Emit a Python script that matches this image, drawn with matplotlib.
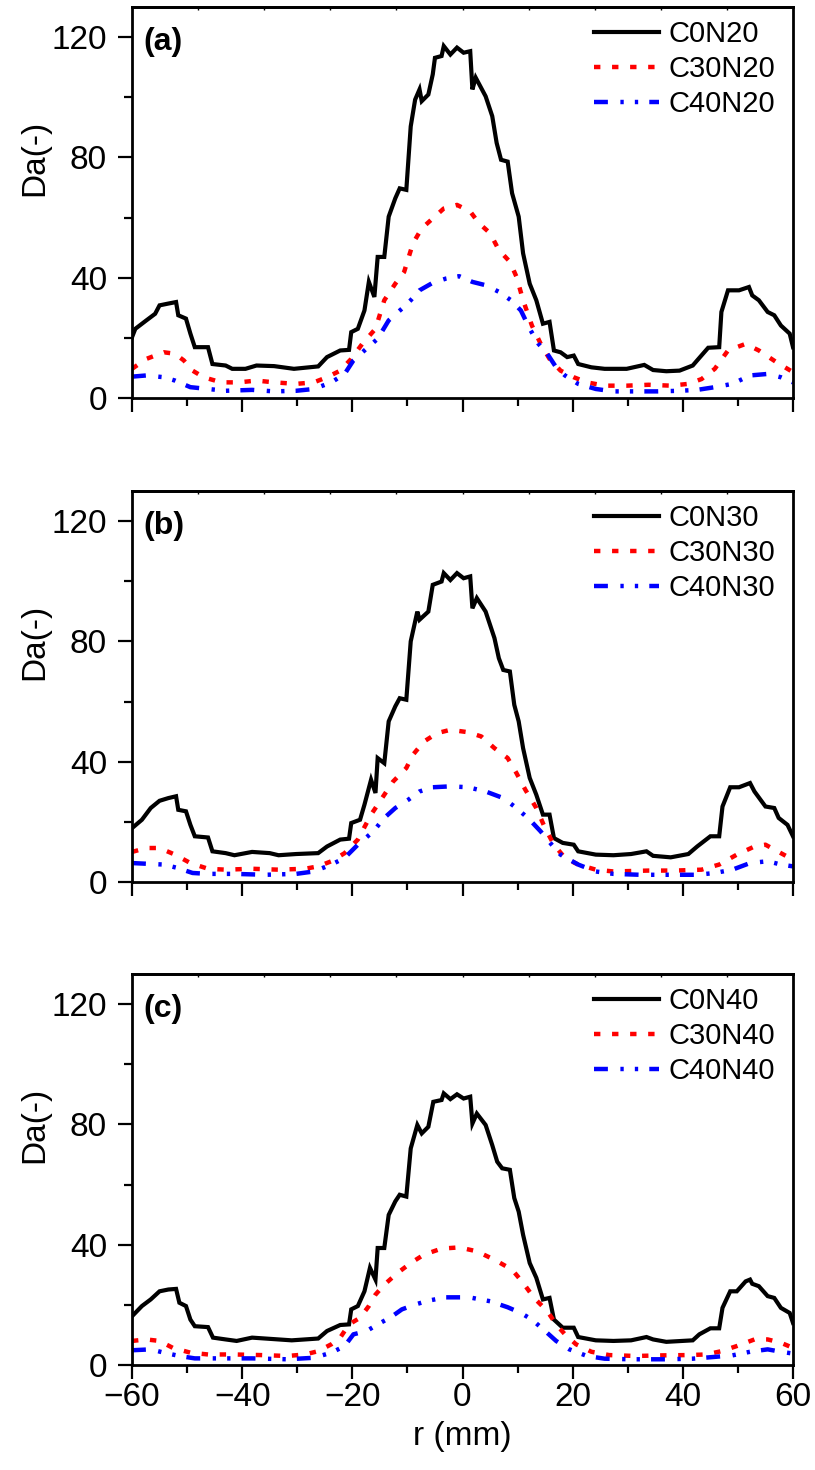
import matplotlib
matplotlib.use("Agg")
import matplotlib.pyplot as plt
from matplotlib.ticker import MultipleLocator, FixedLocator

plt.rcParams['font.family'] = ['Liberation Sans', 'DejaVu Sans']
plt.rcParams['lines.scale_dashes'] = False

# ---------------- data: panel (a) ----------------
r_a_c0 = [-60, -59.4, -57.4, -55.8, -55, -53.4, -52, -51.6, -50.2, -49.4, -48.6, -46.2, -45.4, -43, -41.8, -39.4,
          -37.4, -34.2, -30.6, -26.2, -24.6, -22.2, -20.6, -20.2, -19, -17.8, -17, -16, -15.4, -14.2, -13.4, -12.2,
          -11.4, -10.2, -9.4, -8.6, -7.8, -7.4, -6.2, -5.4, -5, -3.8, -3.4, -2.2, -1, 0.2, 1.4, 1.8, 2.4, 4.2, 5.4,
          6.2, 7, 8.2, 9, 10.2, 11, 12.2, 13.4, 14.6, 15.8, 16.6, 17.8, 19, 20.2, 21, 23.4, 25.8, 29.8, 33, 34.6, 37,
          39.4, 41.8, 42.6, 44.6, 46.6, 47, 48.2, 50.2, 52, 52.6, 53.8, 55.4, 56.6, 57.8, 59.4, 60]
da_a_c0 = [20.2, 23, 25.8, 28, 30.8, 31.4, 31.9, 27.5, 26.4, 21.4, 16.9, 16.9, 11.3, 10.8, 9.7, 9.7,
           10.8, 10.6, 9.7, 10.5, 13.6, 15.8, 16, 21.9, 23, 29.1, 38.6, 33.6, 46.9, 46.9, 60.3, 66.4,
           69.7, 69.2, 90.3, 99.2, 102.6, 98.7, 100.9, 107.6, 113.1, 113.7, 117, 114.2, 116.5, 114.8, 115.3, 102.6, 106.5, 100.3, 93.7,
           84.8, 79.2, 78.6, 68.1, 60.3, 48.1, 38, 32.5, 24.7, 25.3, 15.8, 15.2, 13.6, 14.1, 11.3, 10.2, 9.7, 9.7, 11, 9.3, 8.9,
           9.1, 10.8, 12.5, 16.7, 16.9, 28.6, 35.8, 35.8, 36.9, 34.1, 32.5, 28.6, 27.5, 24.1, 21.4, 16.9]

r_a_c30 = [-60, -57.4, -54.2, -52.2, -50.6, -49, -47, -43.8, -40.6, -37.4, -34.2, -30.2, -27, -24.6, -22.2, -20.2,
           -18.2, -15.8, -14.2, -12.2, -10.6, -9, -7.4, -5.4, -3.4, -1, 1.4, 3, 5, 6.6, 8.6, 9.8, 11, 12.6, 14.2,
           15.8, 17.8, 20.2, 22.6, 25.8, 29.8, 33.8, 37.8, 41, 43.4, 45.8, 48.2, 51.4, 53.8, 57, 60]
da_a_c30 = [9.7, 13, 15.2, 14.7, 12.5, 9.1, 6.9, 5.2, 5.2, 5.8, 5.2, 4.7, 5.2, 6.9, 9.1, 13,
            18, 23, 32.5, 38, 41.9, 51.4, 56.4, 59.7, 63, 64.2, 62, 58.1, 54.8, 49.2, 45.3, 40.3, 32.5, 24.1, 18,
            13, 9.1, 6.9, 5.2, 4.1, 4.1, 4.4, 4.1, 4.7, 6.3, 9.7, 15.8, 18, 15.8, 11.9, 8.6]

r_a_c40 = [-60, -57.4, -54.2, -52.2, -49.4, -46.2, -43, -38.2, -34.2, -30.2, -27, -23.8, -21.4, -19.8, -17.8,
           -15.4, -13.4, -11, -9.4, -7.8, -5.4, -3, -0.6, 1.8, 4.2, 6.6, 8.8, 10.6, 12.2, 13.8, 15.4, 17, 18.6,
           21, 24.2, 27.4, 31.4, 35.4, 39.4, 42.6, 45.8, 49, 52.2, 55.4, 57.8, 60]
da_a_c40 = [7.1, 7.5, 6.9, 5.8, 3.6, 3, 2.4, 2.7, 2.2, 2.4, 3, 5.2, 8, 12.5, 15.8,
            19.7, 25.8, 29.7, 32.5, 35.8, 38.3, 39.7, 40.5, 38.6, 37.5, 35.3, 32.5, 29.1, 23, 18, 14.7, 10.2, 7.5,
            4.7, 3, 2.2, 2.2, 2.2, 2.4, 2.7, 3.6, 4.7, 7.5, 8, 6.9, 5.2]

# ---------------- data: panel (b) ----------------
r_b_c0 = [-60, -58.2, -56.6, -55, -53.4, -52, -51.6, -50.2, -49.4, -48.6, -46.2, -45.4, -43, -41.4, -38.2, -35,
          -33.4, -30.2, -26.2, -24.6, -22.2, -20.6, -20.2, -18.6, -17.8, -16.6, -15.8, -15.4, -14.2, -13.4, -12.2,
          -11.4, -10.2, -9.4, -8.2, -7.8, -6.2, -5.4, -3.8, -3.4, -2.2, -1, 0.2, 1.4, 1.8, 2.6, 4.2, 5.8, 6.6, 7.4,
          8.6, 9.4, 10.2, 11, 12.2, 13.4, 14.6, 15.8, 16.6, 18.2, 20.2, 21, 24.2, 27.4, 30.6, 33.4, 34.6, 37.8, 41,
          42.6, 45, 46.6, 47.2, 48.6, 50.2, 52.2, 53, 55, 56.6, 57.4, 59, 60]
da_b_c0 = [17.9, 20.7, 24.6, 27, 27.9, 28.5, 24, 23.5, 19, 15.2, 14.8, 10.2, 9.6, 8.9, 10, 9.6,
           8.9, 9.3, 9.6, 11.8, 14.1, 14.4, 19.6, 20.7, 25.7, 34, 29.6, 41.2, 39.5, 53.4, 58.4,
           61.1, 60.6, 80, 89.9, 87.2, 89.9, 98.8, 99.9, 102.7, 100.4, 102.7, 101, 101.6, 91, 94.4, 89.9, 81.1, 74.4, 70.5,
           70, 58.9, 53.4, 44.5, 34.6, 29, 22.4, 22.4, 14.6, 13, 12.4, 10.2, 9.1, 8.9, 9.3, 10.2, 8.7, 8.2, 9.3,
           11.8, 15.2, 15.2, 25.1, 31.5, 31.5, 32.9, 30.1, 25.1, 24.6, 21.3, 19, 15.2]

r_b_c30 = [-60, -57.4, -55, -52.2, -49.4, -46.2, -43, -38.2, -33.4, -28.6, -26.2, -23.8, -21.4, -19, -16.6, -14.2,
           -12.6, -10.2, -9, -7, -4.6, -2.2, 1, 3.4, 5.8, 8.2, 9.8, 11.4, 13.4, 15, 16.6, 18.6, 21, 24.2, 27.4,
           33.8, 38.6, 43.4, 46.6, 49.8, 53, 55, 57.8, 60]
da_b_c30 = [10, 11.3, 11.3, 9.1, 6.3, 4.4, 4.1, 4.4, 4.1, 4.4, 5.2, 6.9, 9.6, 14.1, 22.4, 29,
            33.4, 37.9, 42.3, 46.7, 49.5, 50.6, 49.8, 48.4, 44.5, 41.2, 36.2, 30.7, 24.6, 17.9, 12.4, 8, 5.8, 4.1, 3.5,
            3.8, 3.8, 4.1, 5.8, 9.1, 11.8, 12.4, 9.6, 7.4]

r_b_c40 = [-60, -56.6, -54.2, -51.8, -49, -46.2, -41.4, -35.8, -30.2, -27, -23.8, -21.4, -19, -16.2, -14.2, -12.2,
           -9.8, -7.8, -5.4, -2.2, 1, 4.2, 7.4, 9.8, 12.2, 14.2, 16.2, 17.8, 21, 24.2, 27.4, 32.2, 37.8, 42.6, 45.8,
           49, 52.2, 55.4, 57.8, 60]
da_b_c40 = [6.3, 6, 5.8, 4.7, 3, 2.7, 2.7, 2.4, 2.7, 3.5, 5.8, 8, 12.4, 16.8, 21.3, 24.6,
            27.4, 30.1, 31.5, 31.8, 31.5, 30.1, 27.9, 24.6, 20.7, 16.8, 12.4, 9.1, 5.8, 3.5, 2.7, 2.4, 2.4, 2.4, 3,
            4.1, 6.3, 6.9, 5.8, 5.2]

# ---------------- data: panel (c) ----------------
r_c_c0 = [-60, -58.2, -56.6, -55, -53.4, -52, -51.4, -50.2, -49.4, -48.6, -46.2, -45.3, -43, -41, -38.2, -35,
          -31, -26.2, -24.6, -22.2, -20.6, -20.2, -19, -17.8, -16.8, -15.8, -15.4, -14.2, -13.4, -12.2, -11.4,
          -10.2, -9.4, -8.2, -7.4, -6.2, -5.3, -3.8, -3.4, -2.2, -1, 0.2, 1.4, 1.8, 2.6, 4.2, 5.4, 6.3, 7.2, 8.6,
          9.4, 10.2, 11, 12.2, 13.4, 14.6, 15.8, 16.6, 18.2, 20.2, 21, 24.2, 27.4, 30.6, 33.4, 34.6, 37, 41.8, 43,
          45, 46.6, 47.2, 48.6, 49.8, 51.4, 52.2, 52.6, 53.8, 55.4, 56.6, 57.8, 59.4, 60]
da_c_c0 = [16.2, 19.6, 21.8, 24.5, 25.1, 25.3, 20.7, 19.6, 15.1, 12.9, 12.6, 9.1, 8.5, 8, 9.1, 8.7,
           8.2, 8.8, 11.3, 13.3, 13.5, 18.5, 19.6, 24.5, 32.3, 28.4, 38.9, 38.9, 49.9, 54.4, 56.6,
           56, 72, 79.8, 77, 79.2, 87.5, 88.1, 90.3, 88.4, 90, 88.6, 89.2, 80.3, 83.6, 79.8, 73.1, 67.6, 65.4, 64.9,
           55.5, 51, 43.3, 33.9, 29, 21.8, 22.3, 15.1, 12.4, 12.4, 9.3, 8.2, 8, 8.2, 9.3, 8.5, 7.7, 8.2, 10.2,
           12.2, 12.2, 19, 24.5, 24.5, 27.8, 28.4, 27, 26.2, 22.9, 22.3, 19, 17.3, 14]

r_c_c30 = [-60, -57.4, -55, -52.6, -49.4, -46.2, -41.4, -36.6, -31.8, -28.6, -26.2, -23.8, -22.2, -20.6, -18.6,
           -17, -15.8, -14.2, -11.8, -9.4, -7, -3.8, -0.6, 2.6, 5.8, 9, 11, 13, 15.4, 17, 18.6, 20.6, 23.4, 26.6,
           31.4, 36.2, 41, 44.2, 47, 49.8, 53, 55.4, 57.8, 60]
da_c_c30 = [8, 8.5, 8, 5.7, 4.1, 3.5, 3.5, 3.3, 3, 3.5, 4.6, 6.9, 9.1, 13.5, 15.7,
            19.6, 23.4, 26.7, 30.6, 33.9, 36.7, 38.7, 39.1, 37.8, 35, 31.7, 27.3, 22.3, 17.9, 13.5, 10.2, 6.9, 4.4, 3.3,
            3, 3.2, 3.3, 3.5, 4.6, 6.3, 8.5, 8.5, 7.4, 5.7]

r_c_c40 = [-60, -56.6, -54.2, -51.4, -48.6, -43.8, -38.2, -31.8, -27, -23.8, -21.4, -19.8, -17.4, -15.4, -13,
           -11, -8.6, -6.2, -3, -0.2, 1.8, 5, 8.2, 10.6, 12.6, 15, 17, 19.4, 22.6, 25.8, 30.6, 37, 41.8, 45.8, 49,
           52.2, 55.4, 57.8, 60]
da_c_c40 = [4.9, 5.2, 4.1, 3, 2.2, 2.2, 2.2, 1.9, 2.4, 4.1, 6.3, 10.2, 11.3, 13.5, 15.9,
            18.5, 20.1, 21.4, 22.5, 22.5, 22.3, 21.2, 19.2, 17.3, 15.1, 11.3, 8, 5.2, 3, 2.1, 1.9, 1.9, 2.1, 2.7, 3.2,
            4.4, 5.2, 4.4, 3.8]

panel_tags = ['(a)', '(b)', '(c)']
labels_a = ['C0N20', 'C30N20', 'C40N20']
labels_b = ['C0N30', 'C30N30', 'C40N30']
labels_c = ['C0N40', 'C30N40', 'C40N40']

panels = [
    ((r_a_c0, da_a_c0), (r_a_c30, da_a_c30), (r_a_c40, da_a_c40), labels_a),
    ((r_b_c0, da_b_c0), (r_b_c30, da_b_c30), (r_b_c40, da_b_c40), labels_b),
    ((r_c_c0, da_c_c0), (r_c_c30, da_c_c30), (r_c_c40, da_c_c40), labels_c),
]

fig = plt.figure(figsize=(8.15, 14.7), dpi=100)
L, W = 132 / 815, 661 / 815
bottoms = [(1470 - 398) / 1470, (1470 - 882) / 1470, (1470 - 1365) / 1470]
H = 391 / 1470

red_ls = (0, (4.6, 8.4))
blue_ls = (0, (10, 9, 2.4, 8, 2.4, 8))

for i, (s0, s30, s40, labs) in enumerate(panels):
    ax = fig.add_axes([L, bottoms[i], W, H])
    ax.plot(s0[0], s0[1], color='black', lw=3.0, label=labs[0], solid_joinstyle='miter')
    ax.plot(s30[0], s30[1], color='#FF0000', lw=3.2, linestyle=red_ls, label=labs[1], dash_capstyle='butt')
    ax.plot(s40[0], s40[1], color='#0000FF', lw=3.2, linestyle=blue_ls, label=labs[2], dash_capstyle='butt')
    ax.set_xlim(-60, 60)
    ax.set_ylim(0, 130)
    ax.xaxis.set_major_locator(MultipleLocator(20))
    ax.xaxis.set_minor_locator(MultipleLocator(10))
    ax.yaxis.set_major_locator(FixedLocator([0, 40, 80, 120]))
    ax.yaxis.set_minor_locator(FixedLocator([20, 60, 100]))
    ax.tick_params(axis='both', which='major', direction='out', length=10, width=1.6, labelsize=24)
    ax.tick_params(axis='both', which='minor', direction='out', length=6, width=1.6)
    ax.tick_params(axis='y', which='major', pad=8)
    ax.tick_params(axis='x', which='major', pad=2)
    for sp in ax.spines.values():
        sp.set_linewidth(2.0)
    if i < 2:
        ax.tick_params(axis='x', labelbottom=False)
    else:
        ax.set_xlabel('r (mm)', fontsize=24, labelpad=6)
    ax.set_ylabel('Da(-)', fontsize=24)
    ax.yaxis.set_label_coords(-0.124, 0.615)
    # small top ticks
    sec = ax.secondary_xaxis('top')
    sec.set_xticks([-48, -36, -24, -12, 0, 12, 24, 36, 48])
    sec.tick_params(direction='in', length=2.5, width=1.0, labeltop=False)
    sec.spines['top'].set_linewidth(2.0)

    ax.text(0.017, 0.95, panel_tags[i], transform=ax.transAxes, fontsize=23,
            fontweight='bold', ha='left', va='top')
    leg = ax.legend(loc='upper left', bbox_to_anchor=(0.699, 0.967), frameon=False,
                    fontsize=21, handlelength=2.24, handletextpad=0.31,
                    labelspacing=0.25, borderpad=0, borderaxespad=0)

fig.savefig('out.png', dpi=100)
